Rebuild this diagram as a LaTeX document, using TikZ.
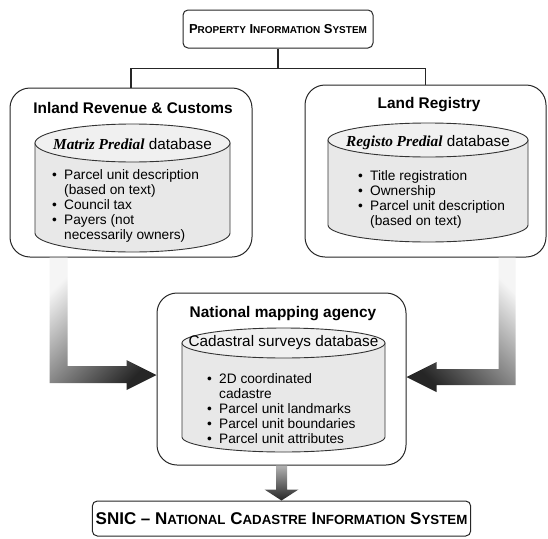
\documentclass[tikz,border=0pt]{standalone}
\usepackage{fontspec}
\setmainfont{Liberation Sans}
\newfontfamily\serifit{Liberation Serif}
\usetikzlibrary{calc,positioning}

\newcommand\smcap[1]{{\fontsize{10}{12}\selectfont #1}}
\newcommand\bigsmcap[1]{{\fontsize{13.3}{15}\selectfont #1}}
\newcommand\itm{\makebox[12pt][l]{\textbullet}}
\newcommand\cnt{\hspace*{12pt}}
% upright database drum: centre x, top y, bottom y, x radius, y radius
\newcommand\dbcyl[5]{%
  \filldraw[cylbody] (#1-#4,#2) -- (#1-#4,#3)
    arc[start angle=180,end angle=360,x radius=#4pt,y radius=#5pt] -- (#1+#4,#2) -- cycle;
  \filldraw[cyltop] (#1,#2) ellipse[x radius=#4pt,y radius=#5pt];}

\tikzset{
  agency/.style={draw=black!85, line width=1pt, fill=white, rounded corners=20pt},
  sysbox/.style={draw=black!85, line width=1pt, fill=white, rounded corners=5pt,
    font=\fontsize{13}{15}\selectfont\bfseries},
  ttl/.style={font=\fontsize{15.4}{18}\selectfont\bfseries, inner sep=0pt},
  dbname/.style={font=\fontsize{15.3}{18}\selectfont, inner sep=0pt},
  dblist/.style={font=\fontsize{13.7}{15}\selectfont, align=left, inner sep=0pt, anchor=north west},
  cylbody/.style={draw=black!80, line width=0.9pt, fill=black!9},
  cyltop/.style={draw=black!80, line width=0.9pt, fill=black!6},
  flowL/.style={top color=black!4, bottom color=black!85, shading angle=45},
  flowR/.style={top color=black!4, bottom color=black!85, shading angle=-45},
  flowD/.style={top color=black!30, bottom color=black!85}
}

\begin{document}
\begin{tikzpicture}[x=1pt, y=-1pt]
  \useasboundingbox (0,0) rectangle (548,538);

  % outer boxes
  \node[sysbox, minimum width=190pt, minimum height=38pt] (pis) at (278,29)
    {P\smcap{ROPERTY} I\smcap{NFORMATION} S\smcap{YSTEM}};
  \node[agency, minimum width=242pt, minimum height=169pt] (irc) at (131,172.5) {};
  \node[agency, minimum width=241pt, minimum height=172pt] (lr) at (425.5,171) {};
  \node[agency, minimum width=249pt, minimum height=172pt] (nma) at (281.5,379) {};
  \node[sysbox, minimum width=377pt, minimum height=35pt, font=\fontsize{17}{19}\selectfont\bfseries]
    (snic) at (281.5,518.5)
    {SNIC -- N\bigsmcap{ATIONAL} C\bigsmcap{ADASTRE} I\bigsmcap{NFORMATION} S\bigsmcap{YSTEM}};

  % tree from the top box
  \draw[line width=1.2pt, black!85] (pis.south) -- ++(0,20) coordinate (fork);
  \draw[line width=1.2pt, black!85] (fork) -| (irc.north);
  \draw[line width=1.2pt, black!85] (fork) -| (lr.north);

  % titles
  \node[ttl] (irct) at (133,108) {Inland Revenue \& Customs};
  \node[ttl] (lrt) at (429,105) {Land Registry};
  \node[ttl] (nmat) at (283,314) {National mapping agency};

  % databases
  \dbcyl{132.5}{143}{233}{97.5}{19}
  \dbcyl{428}{140}{225}{100}{17}
  \dbcyl{283.5}{343}{437}{101.5}{15}

  \node[dbname] (matriz) at (132.5,144) {{\serifit\bfseries\itshape Matriz Predial} database};
  \node[dbname] (registo) at (428,143) {{\serifit\bfseries\itshape Registo Predial} database};
  \node[dbname] (cadastral) at (283.5,343) {Cadastral surveys database};

  \node[dblist] (matrizl) at (52,169) {\itm Parcel unit description\\ \cnt(based on text)\\
    \itm Council tax\\ \itm Payers (not\\ \cnt necessarily owners)};
  \node[dblist] (registol) at (358,170) {\itm Title registration\\ \itm Ownership\\
    \itm Parcel unit description\\ \cnt(based on text)};
  \node[dblist] (cadastrall) at (207,373) {\itm 2D coordinated\\ \cnt cadastre\\
    \itm Parcel unit landmarks\\ \itm Parcel unit boundaries\\ \itm Parcel unit attributes};

  % flows into the mapping agency
  \coordinate (ltip) at ($(nma.west)+(0,-4)$);
  \coordinate (la) at ($(irc.south west)+(40,0)$);
  \shade[flowL] (la) -- ++(18,0) |- ($(ltip)+(-30,-9)$) -- ++(0,-6) -- (ltip)
    -- ++(-30,15) -- ++(0,-7) -| (la) -- cycle;

  \coordinate (rtip) at ($(nma.east)+(0,-2)$);
  \coordinate (ra) at ($(lr.south east)+(-31,0)$);
  \shade[flowR] (ra) -- ++(-17,0) |- ($(rtip)+(30,-8)$) -- ++(0,-7) -- (rtip)
    -- ++(30,15) -- ++(0,-7) -| (ra) -- cycle;

  \shade[flowD] ($(nma.south)+(-5.5,0)$) -- ++(11,0) -- ($(snic.north)+(5.5,-11)$)
    -- ++(11.5,0) -- (snic.north) -- ++(-17,-11) -- ++(11.5,0) -- cycle;
\end{tikzpicture}
\end{document}
